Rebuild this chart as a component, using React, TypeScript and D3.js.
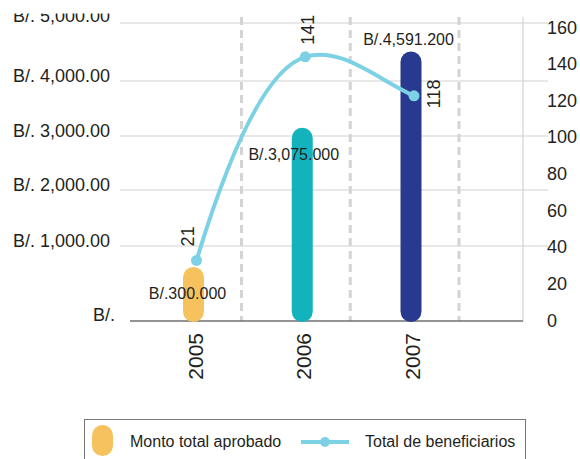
import React from "react";
import * as d3 from "d3";

// ---- data ----
const years = ["2005", "2006", "2007"];
const montoValues = [300, 3075, 4591.2];
const montoLabels = ["B/.300.000", "B/.3,075.000", "B/.4,591.200"];
const beneficiarios = [21, 141, 118];
const leftTicks = [0, 1000, 2000, 3000, 4000, 5000];
const rightTicks = [0, 20, 40, 60, 80, 100, 120, 140, 160];
const barColors = ["#F6C25E", "#13B3BE", "#283A8F"];
const legendLabels = ["Monto total aprobado", "Total de beneficiarios"];

const W = 580;
const H = 459;
const FONT = "'Liberation Sans', Arial, Helvetica, sans-serif";
const TEXT = "#231f20";
const LINE_COLOR = "#7DD1E4";
const GRID = "#d2d2d2";

export default function App() {
  // scales
  const x = d3.scalePoint<string>().domain(years).range([193.5, 411]);
  const yGrid = d3
    .scaleLinear()
    .domain(leftTicks)
    .range([321, 246, 190, 136, 81, 23]);
  const yBar = d3.scaleLinear().domain([0, 5000]).range([282, 31]);
  const yRight = d3.scaleLinear().domain([0, 160]).range([320, 27]);
  const yLine = d3.scaleLinear().domain([0, 160]).range([296, 24.6]);

  const base = yGrid(0);
  const plotLeft = 120;
  const plotRight = 523;
  const plotTop = 17;

  // line points
  const pts = beneficiarios.map((v, i) => [x(years[i])! + 3, yLine(v)] as [number, number]);
  const tangents = [-3.3, -0.3, 0.45]; // curve handle slopes (style)
  const p = d3.path();
  p.moveTo(pts[0][0], pts[0][1]);
  for (let i = 0; i < pts.length - 1; i++) {
    const [x0, y0] = pts[i];
    const [x1, y1] = pts[i + 1];
    const dx = (x1 - x0) / 3;
    p.bezierCurveTo(x0 + dx, y0 + tangents[i] * dx, x1 - dx, y1 - tangents[i + 1] * dx, x1, y1);
  }

  const fmt = d3.format(",.2f");
  const barLabelDx = [-6, -8.5, -2.5];
  const lineLabelPos = [
    { dx: -3, dy: -14, anchor: "start" },
    { dx: 9, dy: -12, anchor: "start" },
    { dx: 26, dy: -2, anchor: "middle" },
  ];
  const leftLabelDy = (t: number) => (t === 0 ? 0 : t === 5000 ? -1 : 1);

  return (
    <svg
      width={W}
      height={H}
      style={{ position: "absolute", left: 0, top: 0, display: "block", background: "#fff" }}
      fontFamily={FONT}
    >
      <defs>
        <clipPath id="topclip">
          <rect x={0} y={13.5} width={W} height={H} />
        </clipPath>
      </defs>
      <g clipPath="url(#topclip)">
        {/* horizontal gridlines */}
        {leftTicks.filter((t) => t > 0).map((t) => (
          <line key={t} x1={plotLeft} x2={548} y1={yGrid(t)} y2={yGrid(t)} stroke={GRID} strokeWidth={1.2} />
        ))}
        {/* dashed verticals */}
        {years.map((yr) => (
          <line
            key={yr}
            x1={x(yr)! + 48}
            x2={x(yr)! + 48}
            y1={plotTop}
            y2={base}
            stroke="#d3d3d3"
            strokeWidth={3}
            strokeDasharray="8 5"
          />
        ))}
        {/* right axis line */}
        <line x1={plotRight} x2={plotRight} y1={plotTop} y2={base} stroke={GRID} strokeWidth={1.2} />
        {/* baseline */}
        <line x1={130} x2={plotRight} y1={base} y2={base} stroke="#6f6f6f" strokeWidth={1.5} />

        {/* left labels */}
        {leftTicks.map((t) => (
          <text
            key={t}
            x={t === 0 ? 115 : 110}
            y={yGrid(t) + leftLabelDy(t)}
            textAnchor="end"
            fontSize={18}
            fill={TEXT}
          >
            {t === 0 ? "B/." : "B/. " + fmt(t)}
          </text>
        ))}
        {/* right labels */}
        {rightTicks.map((t) => (
          <text key={t} x={547} y={yRight(t) + 6.5} fontSize={18} fill={TEXT}>
            {t}
          </text>
        ))}

        {/* bars */}
        {montoValues.map((v, i) => {
          const cx = x(years[i])!;
          const top = yBar(v);
          return (
            <rect
              key={years[i]}
              x={cx - 10.5}
              y={top}
              width={21}
              height={base + 1 - top}
              rx={10.5}
              ry={10.5}
              fill={barColors[i]}
            />
          );
        })}

        {/* bar labels */}
        {montoValues.map((v, i) => {
          const cx = x(years[i])! + barLabelDx[i];
          const top = yBar(v);
          const y = i === montoValues.length - 1 ? top - 7 : top + 32;
          return (
            <text key={years[i]} x={cx} y={y} textAnchor="middle" fontSize={16} fill={TEXT}>
              {montoLabels[i]}
            </text>
          );
        })}

        {/* line */}
        <path d={p.toString()} fill="none" stroke={LINE_COLOR} strokeWidth={4} />
        {pts.map(([px, py], i) => (
          <circle key={i} cx={px} cy={py} r={5.5} fill={LINE_COLOR} />
        ))}
        {pts.map(([px, py], i) => {
          const s = lineLabelPos[i];
          return (
            <text
              key={i}
              transform={`translate(${px + s.dx},${py + s.dy}) rotate(-90)`}
              textAnchor={s.anchor}
              fontSize={18}
              fill={TEXT}
            >
              {beneficiarios[i]}
            </text>
          );
        })}

        {/* year labels */}
        {years.map((yr) => (
          <text
            key={yr}
            transform={`translate(${x(yr)! + 9},333) rotate(-90)`}
            textAnchor="end"
            fontSize={21}
            fill={TEXT}
          >
            {yr}
          </text>
        ))}
      </g>

      {/* legend */}
      <g>
        <rect x={84.5} y={419.5} width={441} height={60} fill="none" stroke="#777" strokeWidth={1} />
        <rect x={92} y={425} width={21} height={31} rx={10.5} ry={10.5} fill={barColors[0]} />
        <text x={130} y={447} fontSize={16} fill={TEXT}>
          {legendLabels[0]}
        </text>
        <line x1={301} x2={349} y1={442} y2={442} stroke={LINE_COLOR} strokeWidth={4} />
        <circle cx={325} cy={442} r={5} fill={LINE_COLOR} />
        <text x={365} y={447} fontSize={16} fill={TEXT}>
          {legendLabels[1]}
        </text>
      </g>
    </svg>
  );
}
